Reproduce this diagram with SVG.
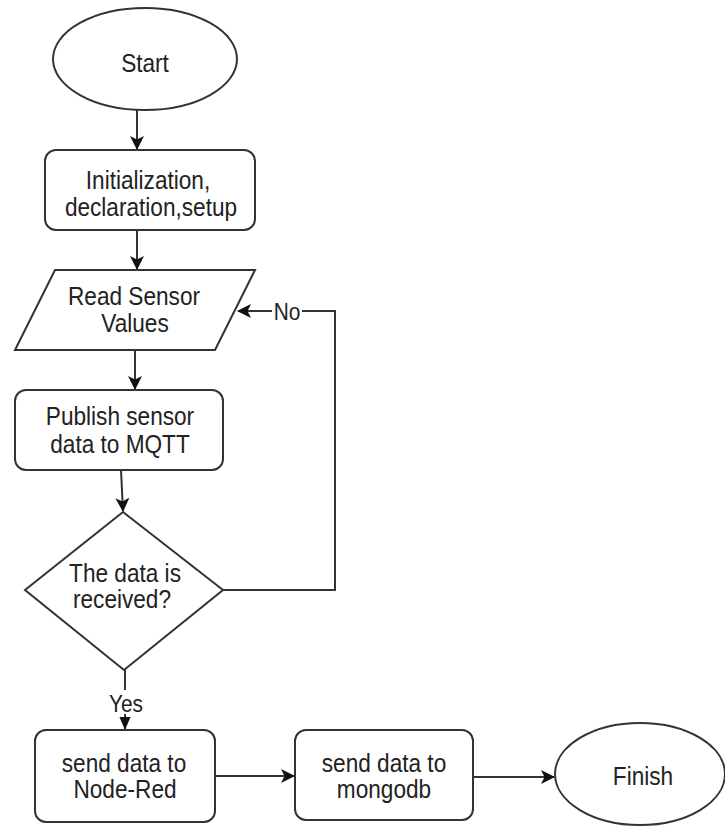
<svg xmlns="http://www.w3.org/2000/svg" width="725" height="827" viewBox="0 0 725 827">
<defs>
<style>
.shape{fill:#ffffff;stroke:#333333;stroke-width:2}
.edge{fill:none;stroke:#333333;stroke-width:2}
.t{font-family:"Liberation Sans",Arial,Helvetica,sans-serif;font-size:26px;fill:#222222;text-anchor:middle}
.lbl{font-family:"Liberation Sans",Arial,Helvetica,sans-serif;font-size:24px;fill:#222222;text-anchor:middle}
</style>
<marker id="arr" viewBox="0 0 14 14" refX="13" refY="7" markerWidth="14" markerHeight="14" markerUnits="userSpaceOnUse" orient="auto">
<path d="M0,0 L14,7 L0,14 L3.5,7 z" fill="#111111"/>
</marker>
<marker id="arrs" viewBox="0 0 14 12" refX="13" refY="6" markerWidth="13" markerHeight="12" markerUnits="userSpaceOnUse" orient="auto">
<path d="M0,0 L14,6 L0,12 z" fill="#111111"/>
</marker>
</defs>
<rect width="725" height="827" fill="#ffffff"/>

<g id="connectors">
<path class="edge" d="M137,110 L137,149" marker-end="url(#arr)"/>
<path class="edge" d="M137,230 L137,269" marker-end="url(#arr)"/>
<path class="edge" d="M135,350 L135,389" marker-end="url(#arr)"/>
<path class="edge" d="M121,470 L123,511" marker-end="url(#arr)"/>
<path class="edge" d="M223,590 L335,590 L335,311 L238,311" marker-end="url(#arr)"/>
<path class="edge" d="M125,670 L125,729" marker-end="url(#arrs)"/>
<path class="edge" d="M215,776 L294,776" marker-end="url(#arr)"/>
<path class="edge" d="M473,777 L554,777" marker-end="url(#arr)"/>
<rect x="272" y="299" width="30" height="24" fill="#ffffff"/>
<text class="lbl" transform="translate(287 0) scale(0.87 1)" x="0" y="320">No</text>
<rect x="108" y="690" width="36" height="24" fill="#ffffff"/>
<text class="lbl" transform="translate(126 0) scale(0.87 1)" x="0" y="712">Yes</text>
</g>

<g id="start">
<ellipse class="shape" cx="145" cy="59" rx="92" ry="51"/>
<text class="t" transform="translate(145 0) scale(0.87 1)" x="0" y="72">Start</text>
</g>

<g id="init">
<rect class="shape" x="45" y="150" width="210" height="80" rx="11"/>
<text class="t" transform="translate(148 0) scale(0.87 1)" x="0" y="189">Initialization,</text>
<text class="t" transform="translate(151 0) scale(0.87 1)" x="0" y="216">declaration,setup</text>
</g>

<g id="read">
<path class="shape" d="M55,270 L255,270 L215,350 L15,350 Z"/>
<text class="t" transform="translate(134 0) scale(0.87 1)" x="0" y="305">Read Sensor</text>
<text class="t" transform="translate(135 0) scale(0.87 1)" x="0" y="332">Values</text>
</g>

<g id="publish">
<rect class="shape" x="15" y="390" width="208" height="80" rx="11"/>
<text class="t" transform="translate(120 0) scale(0.87 1)" x="0" y="425">Publish sensor</text>
<text class="t" transform="translate(120 0) scale(0.87 1)" x="0" y="453">data to MQTT</text>
</g>

<g id="decision">
<path class="shape" d="M123,512 L223,590 L124,670 L25,590 Z"/>
<text class="t" transform="translate(125 0) scale(0.87 1)" x="0" y="582">The data is</text>
<text class="t" transform="translate(122 0) scale(0.87 1)" x="0" y="608">received?</text>
</g>

<g id="nodered">
<rect class="shape" x="35" y="730" width="180" height="92" rx="11"/>
<text class="t" transform="translate(124 0) scale(0.87 1)" x="0" y="772">send data to</text>
<text class="t" transform="translate(125 0) scale(0.87 1)" x="0" y="798">Node-Red</text>
</g>

<g id="mongodb">
<rect class="shape" x="295" y="730" width="178" height="90" rx="11"/>
<text class="t" transform="translate(384 0) scale(0.87 1)" x="0" y="772">send data to</text>
<text class="t" transform="translate(384 0) scale(0.87 1)" x="0" y="798">mongodb</text>
</g>

<g id="finish">
<ellipse class="shape" cx="640" cy="774" rx="85" ry="51"/>
<text class="t" transform="translate(643 0) scale(0.87 1)" x="0" y="785">Finish</text>
</g>
</svg>
